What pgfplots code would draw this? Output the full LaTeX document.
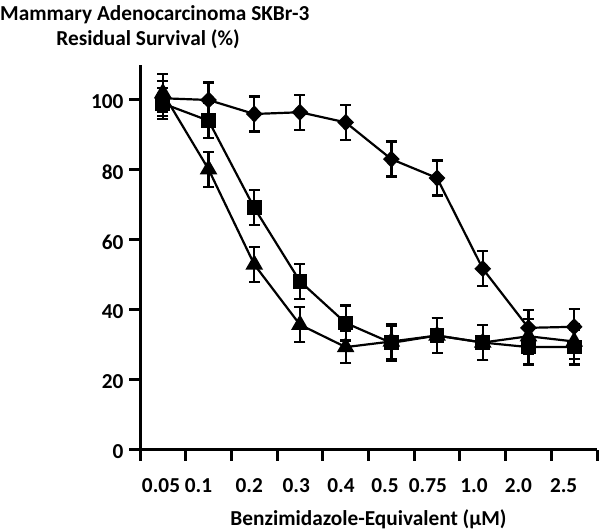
\documentclass[border=0pt]{standalone}
\usepackage{pgfplots}
\pgfplotsset{compat=1.18}
\usepackage{fontspec}
\setmainfont{Carlito}
\newcommand{\lbl}{\bfseries\fontsize{21.3}{24}\selectfont}
\begin{document}
\begin{tikzpicture}[x=1pt,y=1pt]
\path[use as bounding box] (0,0) rectangle (600,532);
\node[anchor=base west, font=\lbl, inner sep=0] at (0,511) {Mammary Adenocarcinoma SKBr-3};
\node[anchor=base, font=\lbl, inner sep=0] at (148,486) {Residual Survival (\%)};
\begin{axis}[
  at={(140pt,82pt)}, anchor=south west,
  scale only axis, width=457pt, height=385pt,
  xmin=-0.5, xmax=9.5, ymin=0, ymax=110,
  axis x line*=bottom, axis y line*=left,
  axis line style={line width=3pt},
  every tick/.style={black, line width=3pt},
  tick align=outside,
  xtick={-0.5,0.5,...,9.5},
  xticklabels={},
  extra x ticks={-0.04,0.78,1.89,2.92,3.90,4.86,5.80,6.81,7.78,8.77},
  extra x tick labels={0.05,0.1,0.2,0.3,0.4,0.5,0.75,1.0,2.0,2.5},
  extra x tick style={major tick style={draw=none}},
  ytick={0,20,40,60,80,100},
  major tick length=11pt,
  /pgf/number format/assume math mode=true,
  ticklabel style={font=\lbl},
  xticklabel style={anchor=base, yshift=-32pt},
  yticklabel style={anchor=east, xshift=-2pt, yshift=-2pt},
  clip=false,
  error bars/y dir=both, error bars/y explicit,
  error bars/error bar style={line width=2.3pt, black},
  error bars/error mark options={rotate=90, mark size=5.5pt, line width=2.3pt, black},
]
\addplot[black, line width=2.2pt, mark=diamond*, mark size=7pt, mark options={solid, xscale=1.3}] coordinates {
 (0,100.5) +- (0,5) (1,100) +- (0,5) (2,96) +- (0,5) (3,96.5) +- (0,5) (4,93.6) +- (0,5)
 (5,83.1) +- (0,5) (6,77.7) +- (0,5) (7,51.8) +- (0,5) (8,34.9) +- (0,5) (9,35.2) +- (0,5)};
\addplot[black, line width=2.2pt, mark=square*, mark size=6.3pt, mark options={solid}] coordinates {
 (0,99) +- (0,4.5) (1,94.1) +- (0,5) (2,69.2) +- (0,5) (3,48.2) +- (0,5) (4,36.3) +- (0,5)
 (5,30.6) +- (0,5) (6,32.7) +- (0,5) (7,30.7) +- (0,5) (8,29.4) +- (0,5) (9,29.4) +- (0,5)};
\addplot[black, line width=2.2pt, mark=triangle*, mark size=8pt, mark options={solid}] coordinates {
 (0,102) +- (0,5.5) (1,80.2) +- (0,5) (2,53) +- (0,5) (3,35.8) +- (0,5) (4,29.4) +- (0,4.5)
 (5,31) +- (0,5) (6,32.7) +- (0,5) (7,30.7) +- (0,5) (8,32.5) +- (0,5) (9,31) +- (0,5)};
\node[anchor=base, font=\lbl, inner sep=0] at (rel axis cs:0.5,0) [yshift=-76pt] {Benzimidazole-Equivalent (µM)};
\end{axis}
\end{tikzpicture}
\end{document}
